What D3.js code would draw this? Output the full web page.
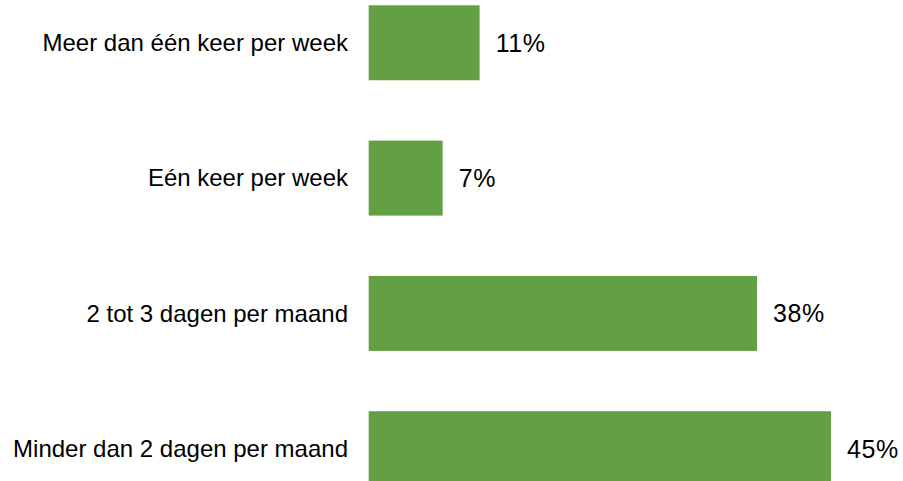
<!DOCTYPE html>
<html>
<head>
<meta charset="utf-8">
<script src="https://cdn.jsdelivr.net/npm/d3@7"></script>
<style>
  body { margin: 0; background: #fff; }
  svg text { font-family: Arial, "Liberation Sans", sans-serif; font-size: 24px; fill: #000; }
  svg text.value { font-size: 25px; letter-spacing: 0.6px; }
</style>
</head>
<body>
<svg id="chart" width="903" height="481"></svg>
<script>
const categories = [
    "Meer dan één keer per week",
    "Eén keer per week",
    "2 tot 3 dagen per maand",
    "Minder dan 2 dagen per maand"
];
const values = [10.8, 7.2, 37.8, 45];
const valueLabels = ["11%", "7%", "38%", "45%"];

const svg = d3.select("#chart");
const x0 = 368.7;

const x = d3.scaleLinear()
    .domain([0, 45])
    .range([x0, 831]);

const y = d3.scaleBand()
    .domain(categories)
    .range([5.3, 486.2])
    .paddingInner(0.446)
    .paddingOuter(0);

const rows = svg.selectAll("g.row")
    .data(categories)
    .join("g")
    .attr("class", "row");

rows.append("rect")
    .attr("x", x(0))
    .attr("y", d => y(d))
    .attr("width", (d, i) => x(values[i]) - x(0))
    .attr("height", y.bandwidth())
    .attr("fill", "#63a043");

rows.append("text")
    .attr("x", 348)
    .attr("y", d => y(d) + y.bandwidth() / 2)
    .attr("dy", "0.35em")
    .attr("text-anchor", "end")
    .text(d => d);

rows.append("text")
    .attr("class", "value")
    .attr("x", (d, i) => x(values[i]) + 16)
    .attr("y", d => y(d) + y.bandwidth() / 2)
    .attr("dy", "0.36em")
    .text((d, i) => valueLabels[i]);
</script>
</body>
</html>
